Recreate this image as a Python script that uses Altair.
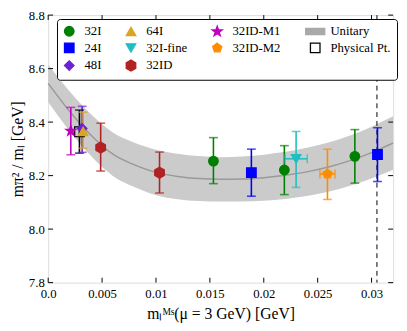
import altair as alt
import pandas as pd

# ---- data ----
series = ["Physical Pt.", "32ID-M1", "48I", "64I", "32ID", "32ID", "32I", "24I",
          "32I", "32I-fine", "32ID-M2", "32I", "24I"]
x_vals = [0.0029, 0.0021, 0.00315, 0.00324, 0.00487, 0.01033, 0.01533, 0.01885,
          0.02191, 0.0230, 0.02591, 0.02845, 0.03055]
y_vals = [8.364, 8.367, 8.376, 8.365, 8.305, 8.211, 8.254, 8.211,
          8.221, 8.263, 8.206, 8.272, 8.279]
y_lo = [8.284, 8.278, 8.287, 8.302, 8.217, 8.135, 8.170, 8.123,
        8.129, 8.156, 8.111, 8.172, 8.178]
y_hi = [8.445, 8.455, 8.459, 8.437, 8.396, 8.288, 8.342, 8.299,
        8.312, 8.365, 8.299, 8.372, 8.379]
x_err = [0, 0, 0, 0, 0, 0, 0, 0, 0, 0.00103, 0.0007, 0, 0]

band_x = [0.0, 0.002, 0.004, 0.006, 0.008, 0.010, 0.012, 0.014, 0.016,
          0.018, 0.020, 0.022, 0.024, 0.026, 0.028, 0.030, 0.032]
band_mid = [8.545, 8.44, 8.35, 8.28, 8.24, 8.212, 8.197, 8.189, 8.186,
            8.187, 8.192, 8.201, 8.214, 8.232, 8.256, 8.286, 8.322]
band_hi = [8.615, 8.514, 8.428, 8.361, 8.323, 8.297, 8.282, 8.273, 8.269,
           8.271, 8.278, 8.289, 8.304, 8.324, 8.350, 8.383, 8.422]
band_lo = [8.475, 8.366, 8.272, 8.199, 8.157, 8.127, 8.112, 8.105, 8.103,
           8.103, 8.106, 8.113, 8.124, 8.140, 8.162, 8.189, 8.222]

phys_line_x = [0.0305]
x_ticks = [0.0, 0.005, 0.01, 0.015, 0.02, 0.025, 0.03]
y_ticks = [7.8, 8.0, 8.2, 8.4, 8.6, 8.8]

# legend order (row-major, 4 columns)
legend_names = ["32I", "64I", "32ID-M1", "Unitary",
                "24I", "32I-fine", "32ID-M2", "Physical Pt.",
                "48I", "32ID"]
STAR = ("M0,-1.1L0.26,-0.36L1.05,-0.34L0.42,0.14L0.65,0.89L0,0.44"
        "L-0.65,0.89L-0.42,0.14L-1.05,-0.34L-0.26,-0.36Z")
PENT = "M0,-1L0.951,-0.309L0.588,0.809L-0.588,0.809L-0.951,-0.309Z"
HEX = "M0,-1.15L1,-0.575L1,0.575L0,1.15L-1,0.575L-1,-0.575Z"
RECT = "M-2,-0.63H2V0.63H-2Z"
legend_shapes = ["circle", "triangle-up", STAR, RECT,
                 "square", "triangle-down", PENT, "square",
                 "diamond", HEX]
colors = {"32I": "#008000", "64I": "#daa520", "32ID-M1": "#bf00bf",
          "Unitary": "#a9a9a9", "24I": "#0000ff", "32I-fine": "#1fbfbf",
          "32ID-M2": "#ff8c00", "Physical Pt.": "#000000", "48I": "#6b21d5",
          "32ID": "#b22222"}
legend_fill = [("transparent" if n == "Physical Pt." else colors[n]) for n in legend_names]
legend_stroke = [colors[n] for n in legend_names]

pts = pd.DataFrame({
    "series": series, "x": x_vals, "y": y_vals, "lo": y_lo, "hi": y_hi,
    "xl": [a - b for a, b in zip(x_vals, x_err)],
    "xh": [a + b for a, b in zip(x_vals, x_err)],
    "ecolor": [colors[s] for s in series],
})
xerr_df = pts[pts["xh"] > pts["xl"]]
band = pd.DataFrame({"x": band_x, "mid": band_mid, "lo": band_lo, "hi": band_hi})

FONT = "Liberation Serif"
W, H = 352, 273

xs = alt.Scale(domain=[0, 0.032], nice=False, zero=False)
ys = alt.Scale(domain=[7.8, 8.8], nice=False, zero=False)

xaxis = alt.Axis(values=x_ticks, ticks=False, domain=False, grid=False,
                 labelExpr="datum.value == 0 ? '0.0' : format(datum.value, '~g')",
                 labelFont=FONT, labelFontSize=13, labelColor="black", labelPadding=5,
                 title="mₗᴹˢ(μ = 3 GeV)  [GeV]", titleFont=FONT, titleFontSize=16,
                 titleFontWeight="normal", titleColor="black", titlePadding=6,
                 labelFlush=False)
yaxis = alt.Axis(values=y_ticks, ticks=False, domain=False, grid=False, format=".1f",
                 labelFont=FONT, labelFontSize=13, labelColor="black", labelPadding=4,
                 title="mπ² / mₗ  [GeV]", titleFont=FONT, titleFontSize=16,
                 titleFontWeight="normal", titleColor="black", titlePadding=3,
                 labelFlush=False)

area = alt.Chart(band).mark_area(color="#cbcbcb", interpolate="monotone").encode(
    x=alt.X("x:Q", scale=xs, axis=xaxis), y=alt.Y("lo:Q", scale=ys, axis=yaxis), y2="hi:Q")
line = alt.Chart(band).mark_line(color="#9a9a9a", strokeWidth=1.5, interpolate="monotone").encode(
    x=alt.X("x:Q", scale=xs), y=alt.Y("mid:Q", scale=ys))

dash = alt.Chart(pd.DataFrame({"x": phys_line_x})).mark_rule(
    color="black", strokeDash=[5, 4], strokeWidth=1).encode(x=alt.X("x:Q", scale=xs))

ecol = alt.Color("ecolor:N", scale=None)
ebar = alt.Chart(pts).mark_rule(strokeWidth=1.6).encode(
    x=alt.X("x:Q", scale=xs), y=alt.Y("lo:Q", scale=ys), y2="hi:Q", color=ecol)
cap_lo = alt.Chart(pts).mark_tick(orient="horizontal", size=9, thickness=1.6).encode(
    x=alt.X("x:Q", scale=xs), y=alt.Y("lo:Q", scale=ys), color=ecol)
cap_hi = alt.Chart(pts).mark_tick(orient="horizontal", size=9, thickness=1.6).encode(
    x=alt.X("x:Q", scale=xs), y=alt.Y("hi:Q", scale=ys), color=ecol)
xbar = alt.Chart(xerr_df).mark_rule(strokeWidth=1.6).encode(
    x=alt.X("xl:Q", scale=xs), x2="xh:Q", y=alt.Y("y:Q", scale=ys), color=ecol)
xcap_l = alt.Chart(xerr_df).mark_tick(orient="vertical", size=9, thickness=1.6).encode(
    x=alt.X("xl:Q", scale=xs), y=alt.Y("y:Q", scale=ys), color=ecol)
xcap_h = alt.Chart(xerr_df).mark_tick(orient="vertical", size=9, thickness=1.6).encode(
    x=alt.X("xh:Q", scale=xs), y=alt.Y("y:Q", scale=ys), color=ecol)

legend = alt.Legend(orient="none", legendX=9, legendY=4, columns=4, direction="horizontal",
                    title=None, fillColor="white", strokeColor="black", padding=6,
                    cornerRadius=3, labelFont=FONT, labelFontSize=13, labelColor="black",
                    symbolSize=95, symbolStrokeWidth=1.3, labelOffset=9,
                    columnPadding=22, rowPadding=2, symbolOpacity=1)
points = alt.Chart(pts).mark_point(filled=False, size=95, strokeWidth=1.3, opacity=1).encode(
    x=alt.X("x:Q", scale=xs), y=alt.Y("y:Q", scale=ys),
    fill=alt.Fill("series:N", scale=alt.Scale(domain=legend_names, range=legend_fill), legend=legend),
    stroke=alt.Stroke("series:N", scale=alt.Scale(domain=legend_names, range=legend_stroke), legend=legend),
    shape=alt.Shape("series:N", scale=alt.Scale(domain=legend_names, range=legend_shapes), legend=legend),
)

tick_x = pd.DataFrame({"x": x_ticks})
tick_y = pd.DataFrame({"y": y_ticks})
tx_bot = alt.Chart(tick_x).mark_rule(color="black").encode(
    x=alt.X("x:Q", scale=xs), y=alt.value(H - 5), y2=alt.value(H))
tx_top = alt.Chart(tick_x).mark_rule(color="black").encode(
    x=alt.X("x:Q", scale=xs), y=alt.value(0), y2=alt.value(5))
ty_left = alt.Chart(tick_y).mark_rule(color="black").encode(
    y=alt.Y("y:Q", scale=ys), x=alt.value(0), x2=alt.value(5))
ty_right = alt.Chart(tick_y).mark_rule(color="black").encode(
    y=alt.Y("y:Q", scale=ys), x=alt.value(W - 5), x2=alt.value(W))

chart = alt.layer(
    area, line, dash, tx_bot, tx_top, ty_left, ty_right,
    ebar, cap_lo, cap_hi, xbar, xcap_l, xcap_h, points
).properties(
    width=W, height=H,
    autosize=alt.AutoSizeParams(type="none"),
    padding={"left": 41, "top": 4, "right": 6, "bottom": 40},
).configure_view(stroke="black", strokeWidth=1.2).configure(background="white")

chart.save("out.html", embed_options={"renderer": "svg", "actions": False})
